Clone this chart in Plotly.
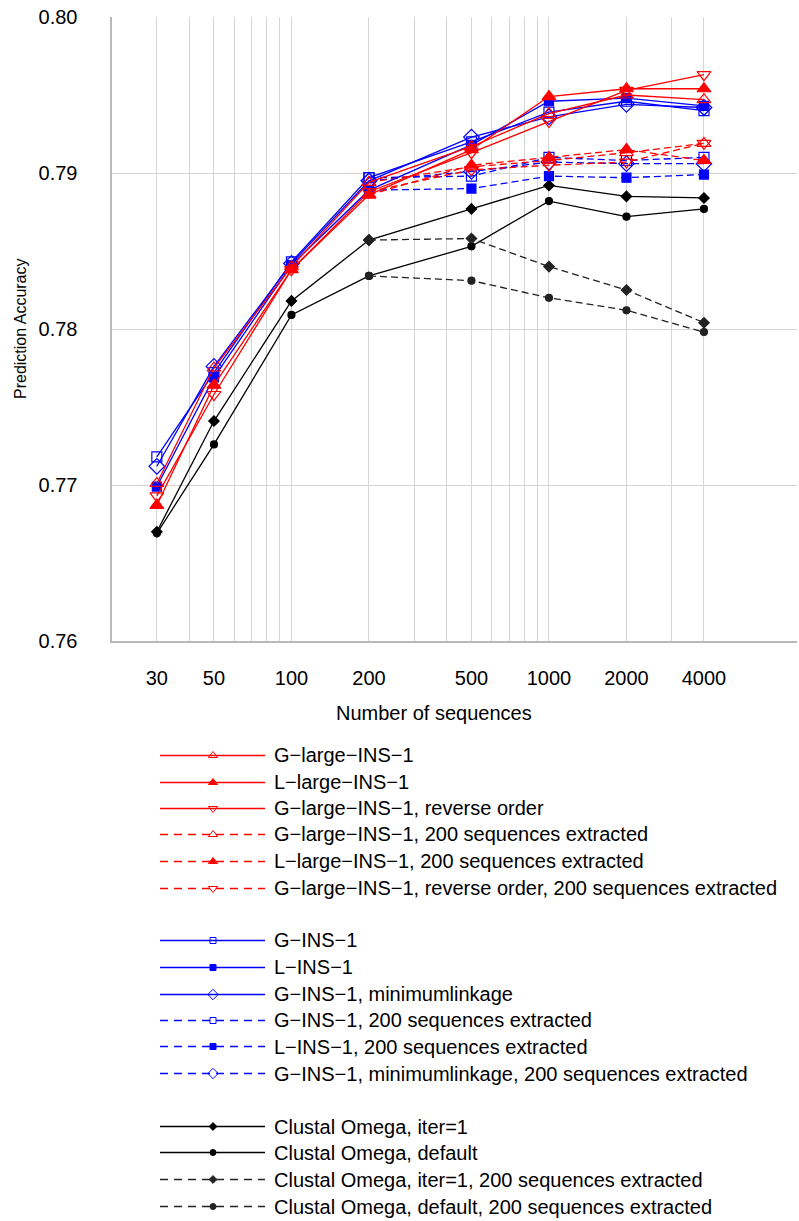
import math
import plotly.graph_objects as go

# ---------------- data ----------------
x_all = [30, 50, 100, 200, 500, 1000, 2000, 4000]
x_ext = [200, 500, 1000, 2000, 4000]

g_large = [0.7701, 0.7775, 0.7840, 0.7894, 0.7917, 0.7938, 0.7950, 0.7947]
l_large = [0.7687, 0.7764, 0.7838, 0.7886, 0.7915, 0.7949, 0.7954, 0.7954]
g_large_rev = [0.7693, 0.7758, 0.7838, 0.7888, 0.7913, 0.7933, 0.7953, 0.7963]
g_large_ext = [0.7894, 0.7904, 0.7908, 0.7913, 0.7919]
l_large_ext = [0.7886, 0.7905, 0.7910, 0.7915, 0.7908]
g_large_rev_ext = [0.7888, 0.7902, 0.7905, 0.7907, 0.7919]

g_ins = [0.7718, 0.7772, 0.7843, 0.7897, 0.7920, 0.7939, 0.7946, 0.7940]
l_ins = [0.7699, 0.7769, 0.7841, 0.7889, 0.7918, 0.7946, 0.7948, 0.7943]
g_ins_min = [0.7712, 0.7776, 0.7842, 0.7895, 0.7923, 0.7936, 0.7944, 0.7942]
g_ins_ext = [0.7897, 0.7898, 0.7910, 0.7908, 0.7910]
l_ins_ext = [0.7889, 0.7890, 0.7898, 0.7897, 0.7899]
g_ins_min_ext = [0.7895, 0.7901, 0.7907, 0.7906, 0.7906]

clustal_iter1 = [0.7670, 0.7741, 0.7818, 0.7857, 0.7877, 0.7892, 0.7885, 0.7884]
clustal_def = [0.7669, 0.7726, 0.7809, 0.7834, 0.7853, 0.7882, 0.7872, 0.7877]
clustal_iter1_ext = [0.7857, 0.7858, 0.7840, 0.7825, 0.7804]
clustal_def_ext = [0.7834, 0.7831, 0.7820, 0.7812, 0.7798]

x_grid = [30, 40, 50, 60, 70, 80, 90, 100, 200, 300, 400, 500, 600, 700, 800, 900, 1000, 2000, 3000, 4000]
x_labels = {30: "30", 50: "50", 100: "100", 200: "200", 500: "500", 1000: "1000", 2000: "2000", 4000: "4000"}
y_ticks = [0.76, 0.77, 0.78, 0.79, 0.80]

RED = "#ff0000"
BLUE = "#0000ff"
BLACK = "#000000"
DGRAY = "#222222"

# (name, x, y, color, dash, symbol, size_plot, size_legend, legend_row)
series = [
    ("Clustal Omega, iter=1", x_all, clustal_iter1, BLACK, "solid", "diamond", 8, 6, 14),
    ("Clustal Omega, default", x_all, clustal_def, BLACK, "solid", "circle", 7, 6, 15),
    ("Clustal Omega, iter=1, 200 sequences extracted", x_ext, clustal_iter1_ext, DGRAY, "dash", "diamond", 8, 6, 16),
    ("Clustal Omega, default, 200 sequences extracted", x_ext, clustal_def_ext, DGRAY, "dash", "circle", 7, 6, 17),
    ("G\u2212INS\u22121, 200 sequences extracted", x_ext, g_ins_ext, BLUE, "dash", "square-open", 10, 6, 10),
    ("L\u2212INS\u22121, 200 sequences extracted", x_ext, l_ins_ext, BLUE, "dash", "square", 9, 6, 11),
    ("G\u2212INS\u22121, minimumlinkage, 200 sequences extracted", x_ext, g_ins_min_ext, BLUE, "dash", "diamond-open", 12, 8, 12),
    ("G\u2212large\u2212INS\u22121, 200 sequences extracted", x_ext, g_large_ext, RED, "dash", "triangle-up-open", 12, 8, 3),
    ("L\u2212large\u2212INS\u22121, 200 sequences extracted", x_ext, l_large_ext, RED, "dash", "triangle-up", 12, 8, 4),
    ("G\u2212large\u2212INS\u22121, reverse order, 200 sequences extracted", x_ext, g_large_rev_ext, RED, "dash", "triangle-down-open", 12, 8, 5),
    ("G\u2212INS\u22121", x_all, g_ins, BLUE, "solid", "square-open", 10, 6, 7),
    ("L\u2212INS\u22121", x_all, l_ins, BLUE, "solid", "square", 9, 6, 8),
    ("G\u2212INS\u22121, minimumlinkage", x_all, g_ins_min, BLUE, "solid", "diamond-open", 12, 8, 9),
    ("G\u2212large\u2212INS\u22121", x_all, g_large, RED, "solid", "triangle-up-open", 12, 8, 0),
    ("L\u2212large\u2212INS\u22121", x_all, l_large, RED, "solid", "triangle-up", 12, 8, 1),
    ("G\u2212large\u2212INS\u22121, reverse order", x_all, g_large_rev, RED, "solid", "triangle-down-open", 12, 8, 2),
]

W, H = 799, 1221
FONT = "Liberation Sans, Arial, Helvetica, sans-serif"
FS = 20

fig = go.Figure()

for name, xs, ys, col, dash, sym, sp, sl, row in series:
    fig.add_trace(go.Scatter(
        x=xs, y=ys, mode="lines+markers", name=name,
        line=dict(color=col, width=1.3, dash="7px,4px" if dash == "dash" else "solid"),
        marker=dict(symbol=sym, size=sp, color=col, line=dict(color=col, width=1.2)),
        showlegend=False, xaxis="x", yaxis="y",
    ))

# ---------------- manual legend (pixel-unit helper axes) ----------------
LEG_TOP = 730  # pixel row where the helper axes begin
LEG_X0, LEG_X1, LEG_XM, LEG_TX = 160, 265, 213, 272
ROW0, ROWH = 755, 26.5
annotations = []
for name, xs, ys, col, dash, sym, sp, sl, row in series:
    yy = round(ROW0 + ROWH * row) + 0.5
    fig.add_trace(go.Scatter(
        x=[LEG_X0, LEG_X1], y=[yy, yy], mode="lines",
        line=dict(color=col, width=1.3, dash="8px,6px" if dash == "dash" else "solid"),
        showlegend=False, hoverinfo="skip", xaxis="x2", yaxis="y2",
    ))
    fig.add_trace(go.Scatter(
        x=[LEG_XM], y=[yy], mode="markers",
        marker=dict(symbol=sym, size=sl, color=col, line=dict(color=col, width=1)),
        showlegend=False, hoverinfo="skip", xaxis="x2", yaxis="y2",
    ))
    annotations.append(dict(
        x=LEG_TX, y=yy, xref="x2", yref="y2", text=name, showarrow=False,
        xanchor="left", yanchor="middle", font=dict(family=FONT, size=FS, color="#000000"),
    ))

PX_LEFT, PX_RIGHT = 111.5, 797
PX_TOP, PX_BOT = 17, 641

# axis titles
annotations.append(dict(
    x=434 / W, y=1 - 713 / H, xref="paper", yref="paper", text="Number of sequences",
    showarrow=False, xanchor="center", yanchor="middle",
    font=dict(family=FONT, size=FS, color="#000000"),
))
annotations.append(dict(
    x=21 / W, y=1 - 329 / H, xref="paper", yref="paper", text="Prediction Accuracy",
    showarrow=False, xanchor="center", yanchor="middle", textangle=-90,
    font=dict(family=FONT, size=16, color="#000000"),
))

px_per_dec = (704 - 157) / math.log10(4000 / 30)
x_lo = math.log10(20)
x_hi = math.log10(30) + (PX_RIGHT - 157) / px_per_dec

fig.update_layout(
    width=W, height=H,
    margin=dict(l=0, r=0, t=0, b=0),
    paper_bgcolor="white", plot_bgcolor="rgba(0,0,0,0)",
    font=dict(family=FONT, size=FS, color="#000000"),
    xaxis=dict(
        type="log", domain=[PX_LEFT / W, PX_RIGHT / W],
        range=[x_lo, x_hi],
        tickvals=x_grid, ticktext=[x_labels.get(v, "") for v in x_grid],
        showgrid=True, gridcolor="#d4d4d4", gridwidth=1,
        showline=True, linecolor="#b8b8b8", linewidth=1.5,
        ticks="", ticklabelstandoff=18, zeroline=False,
        tickfont=dict(family=FONT, size=FS, color="#000000"),
        anchor="y", automargin=False,
    ),
    yaxis=dict(
        domain=[1 - PX_BOT / H, 1 - PX_TOP / H],
        range=[0.76, 0.80],
        tickvals=y_ticks, ticktext=["%.2f" % v for v in y_ticks],
        showgrid=True, gridcolor="#d4d4d4", gridwidth=1,
        showline=True, linecolor="#b8b8b8", linewidth=2,
        ticks="", ticklabelstandoff=28, zeroline=False,
        tickfont=dict(family=FONT, size=FS, color="#000000"),
        anchor="x", automargin=False,
    ),
    xaxis2=dict(domain=[0, 1], range=[0, W], visible=False, anchor="y2", fixedrange=True),
    yaxis2=dict(domain=[0, 1 - LEG_TOP / H], range=[H, LEG_TOP], visible=False,
                anchor="x2", fixedrange=True),
    annotations=annotations,
    showlegend=False,
)

fig.write_html("out.html")
